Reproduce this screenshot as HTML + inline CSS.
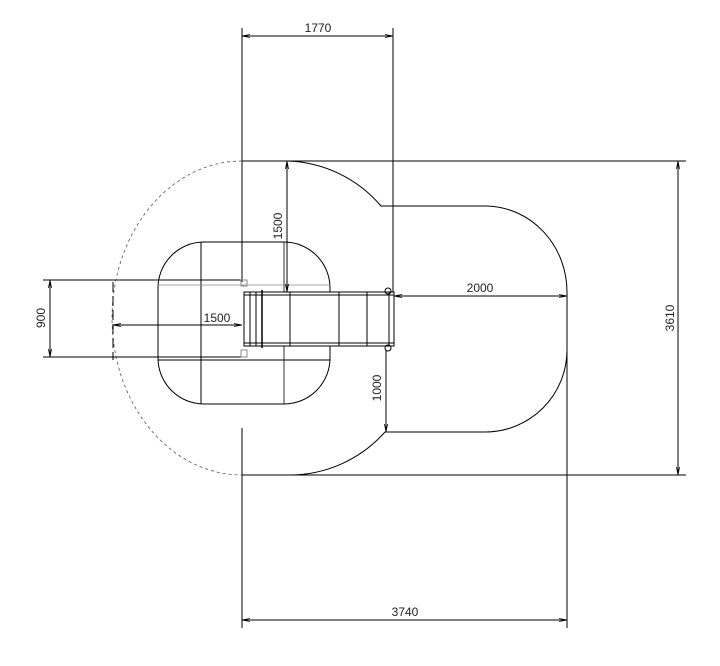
<!DOCTYPE html>
<html><head><style>body{margin:0;background:#fff}svg{display:block}text{font-family:"Liberation Sans",sans-serif;font-size:12px;fill:#222}</style></head>
<body>
<svg width="720" height="666" viewBox="0 0 720 666" xmlns="http://www.w3.org/2000/svg">
<defs><marker id="a" markerWidth="8" markerHeight="6" refX="8" refY="3" orient="auto-start-reverse"><path d="M0,1.5 L8,3 L0,4.5" fill="none" stroke="#000" stroke-width="0.8"/></marker></defs>
<g stroke="#000" stroke-width="1" fill="none">
<!-- extension lines -->
<line x1="242" y1="28" x2="242" y2="282"/>
<line x1="242" y1="428" x2="242" y2="628"/>
<line x1="393" y1="28" x2="393" y2="292"/>
<line x1="567" y1="292" x2="567" y2="628"/>
<line x1="242" y1="161" x2="686" y2="161"/>
<line x1="242" y1="475" x2="686" y2="475"/>
<line x1="43" y1="280" x2="244" y2="280"/>
<line x1="43" y1="357" x2="244" y2="357"/>
<!-- outer shape -->
<path d="M242,161 L288,161 A128,128 0 0 1 381,206 L487,206 A82,86 0 0 1 567,292 L567,350 A82,82 0 0 1 485,432 L385,432 A128,128 0 0 1 288,475 L242,475"/>
<path d="M242,161 A130,157 0 0 0 242,475" stroke="#555" stroke-dasharray="3,3" stroke-width="0.8"/>
<line x1="113" y1="282" x2="113" y2="360" stroke-dasharray="10,4"/>
<!-- inner rounded rect -->
<rect x="158" y="242" width="172" height="162" rx="46" ry="46"/>
<line x1="201" y1="242" x2="201" y2="404"/>
<line x1="284" y1="242" x2="284" y2="404" stroke-width="0.8"/>
<line x1="158" y1="285" x2="330" y2="285" stroke="#888" stroke-width="0.8"/>
<line x1="158" y1="360" x2="330" y2="360"/>
<!-- conveyor -->
<rect x="244" y="292" width="150" height="54" fill="#fff"/>
<line x1="244" y1="295" x2="394" y2="295"/>
<line x1="244" y1="343" x2="394" y2="343"/>
<line x1="250" y1="292" x2="250" y2="346"/>
<line x1="256" y1="292" x2="256" y2="346"/>
<line x1="262" y1="290" x2="262" y2="348" stroke-width="1.5"/>
<line x1="290" y1="292" x2="290" y2="346"/>
<line x1="339" y1="292" x2="339" y2="346"/>
<line x1="367" y1="292" x2="367" y2="346"/>
<line x1="389" y1="292" x2="389" y2="346"/>
<rect x="241" y="280" width="6" height="6" stroke="#888"/>
<rect x="241" y="350" width="6" height="7" stroke="#888"/>
<circle cx="388" cy="291" r="3"/>
<circle cx="388" cy="348" r="3"/>
<!-- dims -->
<line x1="242" y1="36" x2="393" y2="36" marker-start="url(#a)" marker-end="url(#a)"/>
<line x1="678" y1="161" x2="678" y2="475" marker-start="url(#a)" marker-end="url(#a)"/>
<line x1="50" y1="280" x2="50" y2="357" marker-start="url(#a)" marker-end="url(#a)"/>
<line x1="113" y1="325" x2="242" y2="325" marker-start="url(#a)" marker-end="url(#a)"/>
<line x1="287" y1="161" x2="287" y2="292" marker-start="url(#a)" marker-end="url(#a)"/>
<line x1="394" y1="296" x2="567" y2="296" marker-start="url(#a)" marker-end="url(#a)"/>
<line x1="386" y1="350" x2="386" y2="432" marker-end="url(#a)"/>
<line x1="242" y1="620" x2="567" y2="620" marker-start="url(#a)" marker-end="url(#a)"/>
</g>
<text x="318" y="32" text-anchor="middle">1770</text>
<text x="480" y="292" text-anchor="middle">2000</text>
<text x="405" y="616" text-anchor="middle">3740</text>
<text x="217" y="322" text-anchor="middle">1500</text>
<text transform="translate(674,318) rotate(-90)" text-anchor="middle">3610</text>
<text transform="translate(45,318) rotate(-90)" text-anchor="middle">900</text>
<text transform="translate(282,226) rotate(-90)" text-anchor="middle">1500</text>
<text transform="translate(381,388) rotate(-90)" text-anchor="middle">1000</text>
</svg>
</body></html>
